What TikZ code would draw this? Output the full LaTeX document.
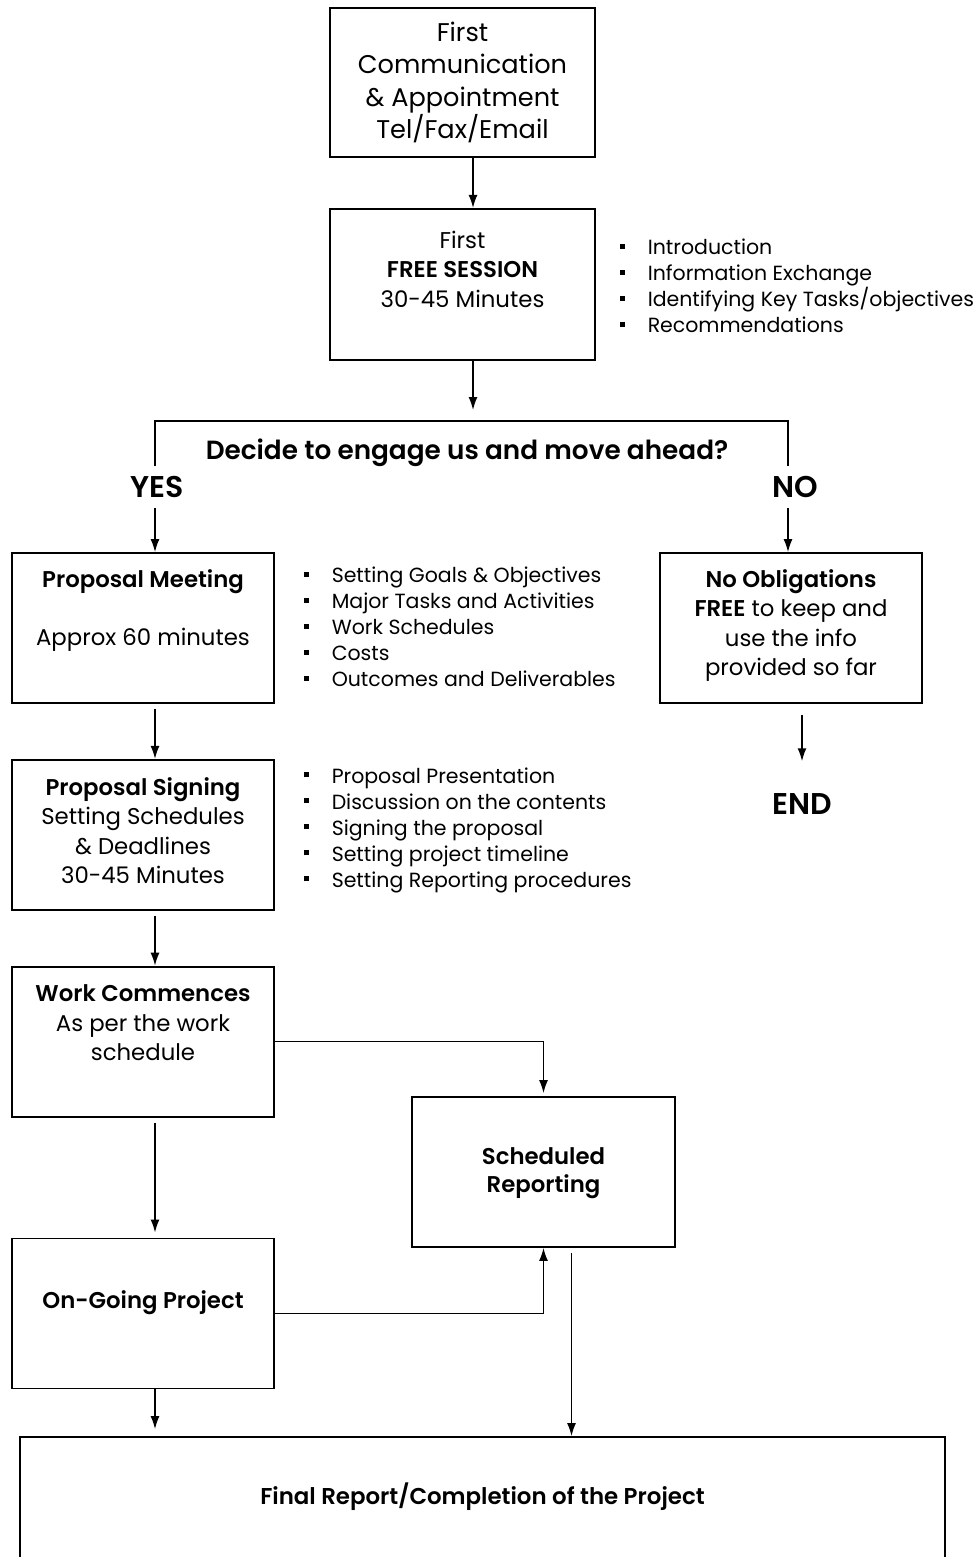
\documentclass[tikz,border=0pt]{standalone}
\usepackage{fontspec}
\setmainfont{Poppins}[BoldFont={Poppins SemiBold}]
\usetikzlibrary{arrows.meta,positioning}
\newcommand{\sqbullet}{\makebox[28pt][l]{\rule[0.3em]{5pt}{5pt}}}

\begin{document}
\begin{tikzpicture}[x=1pt,y=1pt,>={Latex[length=13pt,width=9pt]},line width=1.5pt,
  box/.style={draw,line width=1.8pt,minimum width=262pt,minimum height=150pt,inner sep=0pt},
  boxtext/.style={align=center,inner sep=0pt,font=\fontsize{22.8}{29.5}\selectfont},
  notes/.style={align=left,inner sep=0pt,anchor=west,font=\fontsize{20.5}{26}\selectfont},
  big/.style={inner sep=0pt,minimum height=40pt,font=\fontsize{30}{36}\selectfont\bfseries}]

  \useasboundingbox (0,0) rectangle (975,-1557);

  % first contact and free session
  \node[box,minimum width=265pt,minimum height=149pt] (comm) at (462.5,-82.5) {};
  \node[boxtext,font=\fontsize{25.6}{32.3}\selectfont] (commtext) at (comm.center) {First\\Communication\\\& Appointment\\Tel/Fax/Email};
  \node[box,minimum width=265pt,minimum height=151pt] (sess) [below=50pt of comm] {};
  \node[boxtext] (sesstext) at ([yshift=15pt]sess.center) {First\\\textbf{FREE SESSION}\\30-45 Minutes};
  \node[notes] (sessnotes) at (619,-286) {\sqbullet Introduction\\\sqbullet Information Exchange\\\sqbullet Identifying Key Tasks/objectives\\\sqbullet Recommendations};

  % the decision
  \coordinate (fork) at (473,-410);
  \coordinate (yesc) at (155,-421);
  \coordinate (noc) at (788,-421);
  \node[font=\fontsize{26.3}{30}\selectfont\bfseries] (decide) at (467,-453) {Decide to engage us and move ahead?};
  \node[big] (yes) at (157,-487) {YES};
  \node[big] (no) at (795,-487) {NO};

  % left column
  \node[box] (meet) at (143,-628) {};
  \node[boxtext] (meettext) at ([yshift=17pt]meet.center) {\textbf{Proposal Meeting}\\[28.5pt]Approx 60 minutes};
  \node[notes] (meetnotes) at (303,-627) {\sqbullet Setting Goals \& Objectives\\\sqbullet Major Tasks and Activities\\\sqbullet Work Schedules\\\sqbullet Costs\\\sqbullet Outcomes and Deliverables};
  \node[box] (sign) [below=55pt of meet] {};
  \node[boxtext] (signtext) at ([yshift=4pt]sign.center) {\textbf{Proposal Signing}\\Setting Schedules\\\& Deadlines\\30-45 Minutes};
  \node[notes] (signnotes) at (303,-830.5) {\sqbullet Proposal Presentation\\\sqbullet Discussion on the contents\\\sqbullet Signing the proposal\\\sqbullet Setting project timeline\\\sqbullet Setting Reporting procedures};
  \node[box] (work) [below=55pt of sign] {};
  \node[boxtext] (worktext) at ([yshift=18.5pt]work.center) {\textbf{Work Commences}\\As per the work\\schedule};
  \node[box] (ongo) [below=120pt of work] {};
  \node[boxtext] (ongotext) at ([yshift=11pt]ongo.center) {\textbf{On-Going Project}};

  % right side
  \node[box] (nob) at (791,-628) {};
  \node[boxtext] (nobtext) at ([yshift=2.5pt]nob.center) {\textbf{No Obligations}\\\textbf{FREE} to keep and\\use the info\\provided so far};
  \node[big] (end) at (802,-804) {END};
  \node[box,minimum width=263pt] (rep) at (543.5,-1172) {};
  \node[boxtext,font=\fontsize{22.8}{28}\selectfont\bfseries] (reptext) at ([yshift=-1pt]rep.center) {Scheduled\\Reporting};

  % final box, its bottom edge falls below the page
  \node[box,minimum width=925pt,minimum height=125pt] (final) at (482.5,-1499.5) {};
  \node[boxtext,font=\fontsize{22.9}{28}\selectfont\bfseries] (finaltext) at ([yshift=2.5pt]final.center) {Final Report/Completion of the Project};

  % connectors
  \draw [->] (comm.south -| fork) -- (sess.north -| fork);
  \draw [->] (sess.south -| fork) -- (fork);
  \draw (yes.north -| yesc) -- (yesc) -- (noc) -- (no.north -| noc);
  \draw [->] (yes.south -| yesc) -- (meet.north -| yesc);
  \draw [->] (no.south -| noc) -- (nob.north -| noc);
  \draw [->,shorten <=11pt,shorten >=22pt] (nob.south -| end) -- (end.north);
  \draw [->,shorten <=5pt] (meet.south -| yesc) -- (sign.north -| yesc);
  \draw [->,shorten <=5pt] (sign.south -| yesc) -- (work.north -| yesc);
  \draw [->,shorten <=5pt,shorten >=5pt] (work.south -| yesc) -- (ongo.north -| yesc);
  \draw [->,shorten >=3pt] (work.east) -| (rep.north);
  \draw [->] (ongo.east) -| (rep.south);
  \draw [->,shorten <=5pt] ([xshift=28pt]rep.south) -- ([xshift=28pt]rep.south |- final.north);
  \draw [->,shorten >=7pt] (ongo.south -| yesc) -- (final.north -| yesc);
\end{tikzpicture}
\end{document}
